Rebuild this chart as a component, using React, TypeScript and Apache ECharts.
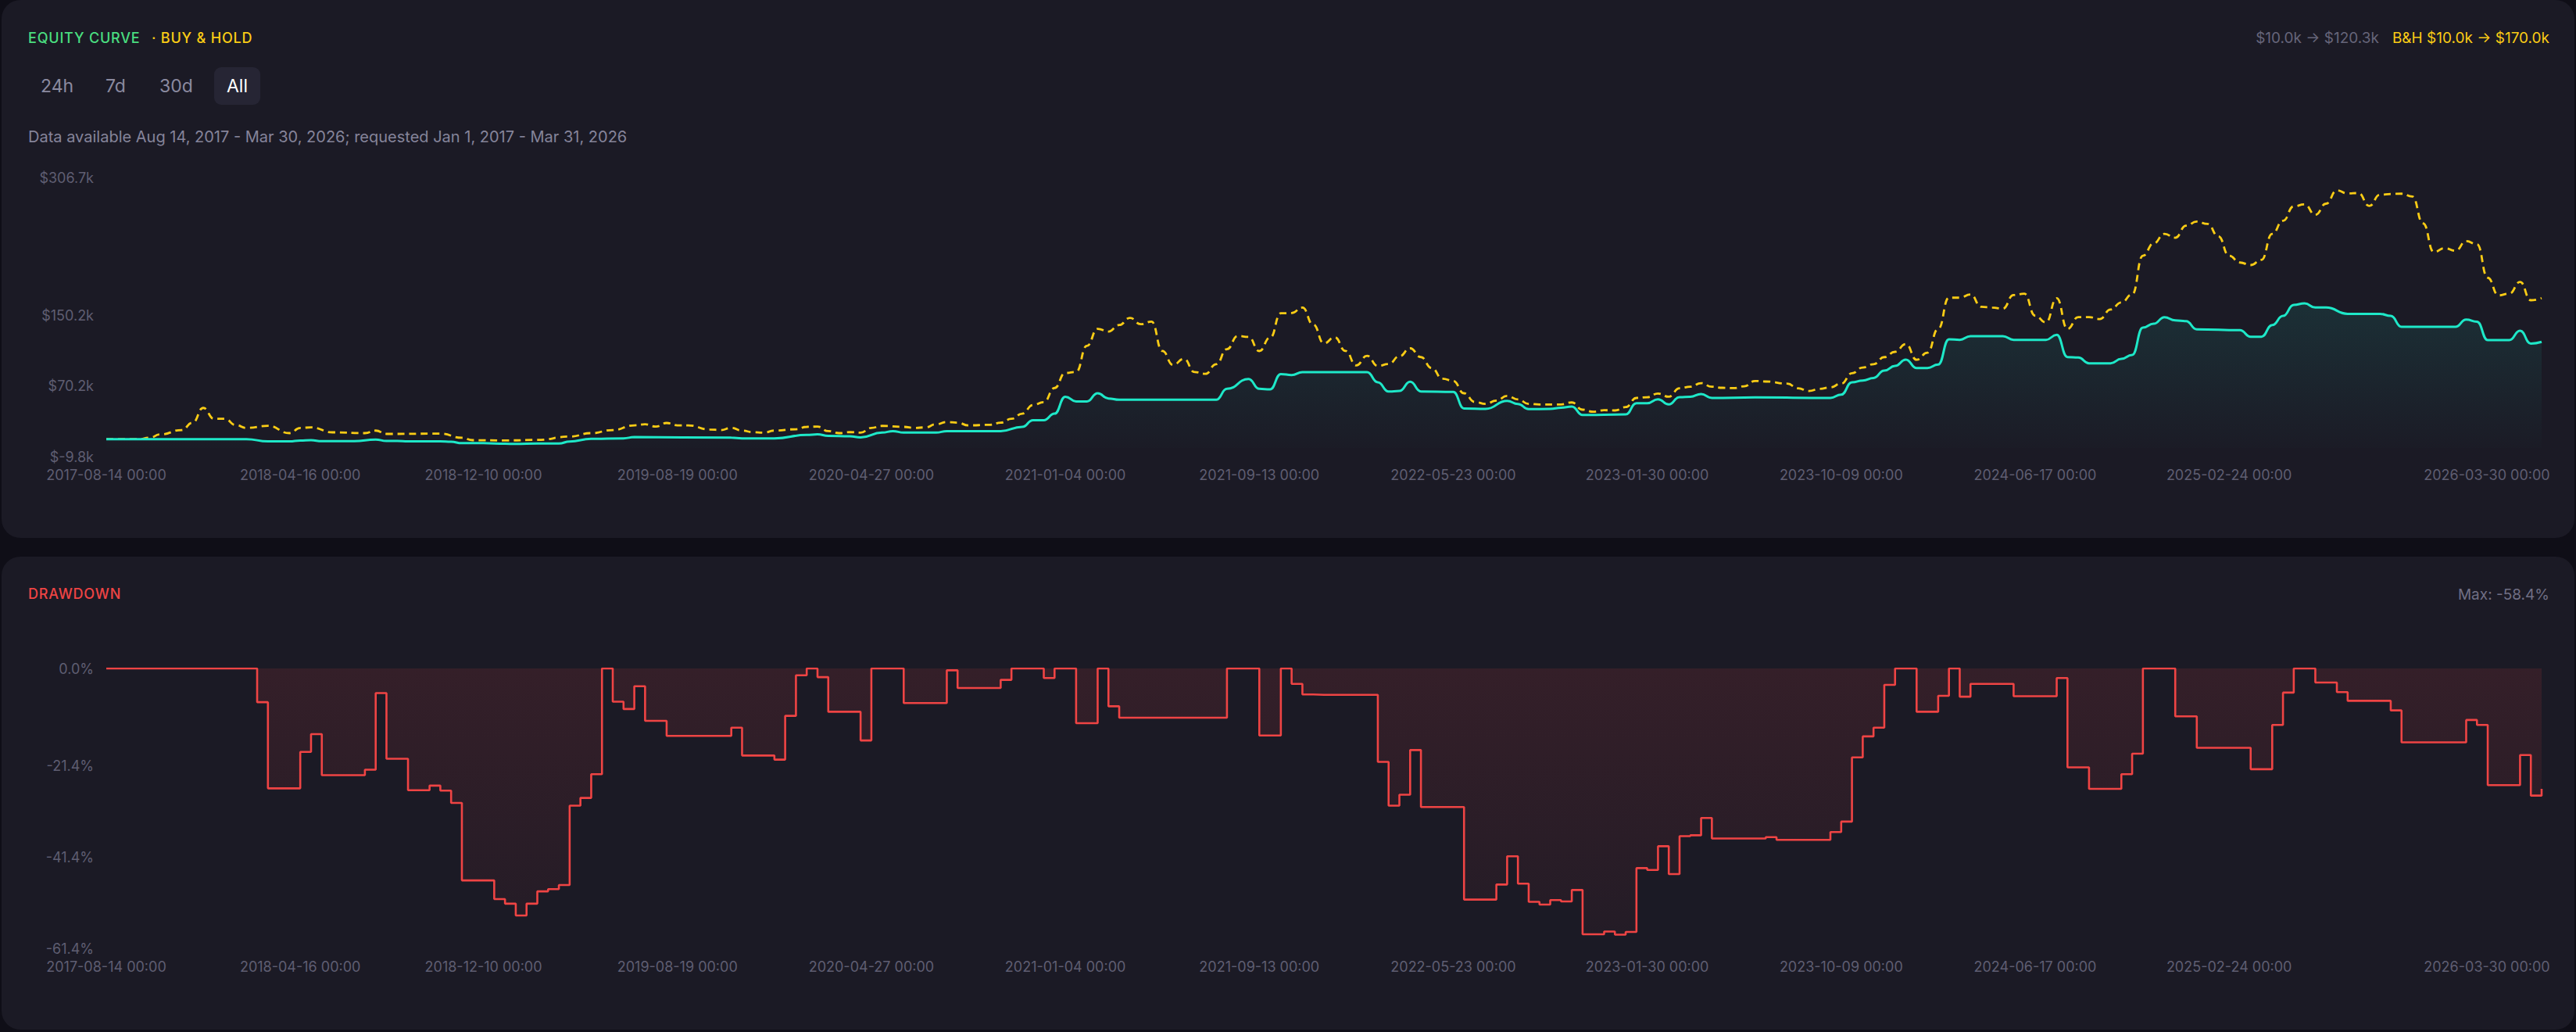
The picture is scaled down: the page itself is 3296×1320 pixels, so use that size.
import React, { useEffect, useRef } from "react";
import * as echarts from "echarts";

// ---------- axis / label data ----------
const LABEL_INDEX = [0, 18, 35, 53, 71, 89, 107, 125, 143, 161, 179, 197, 226];
const LABEL_DATES = [
  "2017-08-14", "2018-04-16", "2018-12-10", "2019-08-19", "2020-04-27", "2021-01-04",
  "2021-09-13", "2022-05-23", "2023-01-30", "2023-10-09", "2024-06-17", "2025-02-24", "2026-03-30",
];
const EQUITY_TICKS = [-9.8, 70.2, 150.2, 306.7];
const EQUITY_MIN = -9.8;
const EQUITY_MAX = 306.7;
const DD_TICKS = [0, -21.4, -41.4, -61.4];
const DD_MIN = -61.4;

// ---------- series (values in $k, [period index, value]) ----------
const STRATEGY: [number, number][] = [
  [0, 10.0], [13, 10.0], [15, 7.4], [17, 7.4], [18, 8.4], [19, 8.8], [20, 7.6], [23, 7.6], [25, 9.5],
  [26, 7.9], [27, 7.9], [28, 7.4], [31, 7.4], [32, 7.0], [33, 5.4], [35, 5.4], [37, 4.8], [38, 4.5],
  [40, 5.0], [42, 5.0], [43, 7.3], [45, 10.3], [48, 10.9], [49, 12.3], [58, 11.7], [59, 10.9], [62, 10.9],
  [65, 14.7], [66, 15.4], [67, 13.8], [69, 13.2], [70, 12.0], [72, 17.4], [73, 19.1], [74, 17.4], [77, 17.4],
  [78, 19.1], [83, 19.1], [85, 23.9], [86, 31.5], [87, 31.5], [88, 38.9], [89, 58.1], [90, 52.8], [91, 52.8],
  [92, 62.0], [93, 56.1], [94, 54.6], [103, 54.6], [104, 67.0], [106, 78.2], [107, 67.0], [108, 66.4],
  [109, 83.8], [110, 82.7], [111, 85.9], [117, 85.9], [118, 74.4], [119, 64.0], [120, 64.6], [121, 75.0],
  [122, 64.0], [125, 63.5], [126, 44.8], [128, 44.3], [130, 53.4], [131, 49.9], [132, 44.0], [134, 44.3],
  [135, 45.7], [136, 46.9], [137, 37.4], [141, 38.0], [142, 50.8], [143, 50.8], [144, 55.2], [145, 49.3],
  [146, 57.5], [147, 58.1], [148, 61.1], [149, 56.7], [153, 57.3], [160, 56.7], [161, 60.5], [162, 74.4],
  [163, 76.5], [164, 79.4], [165, 87.7], [166, 93.0], [167, 100.1], [168, 90.6], [169, 90.6], [170, 94.5],
  [171, 123.2], [172, 122.6], [173, 126.7], [176, 126.7], [177, 122.6], [180, 122.6], [181, 128.2],
  [182, 103.1], [183, 102.5], [184, 96.0], [186, 96.0], [187, 101.0], [188, 105.4], [189, 136.4],
  [190, 140.9], [191, 148.3], [192, 144.7], [193, 143.8], [194, 134.4], [198, 133.5], [199, 126.1],
  [200, 126.1], [201, 139.4], [202, 149.7], [203, 162.2], [204, 163.9], [205, 159.2], [206, 159.2],
  [208, 152.1], [211, 152.1], [212, 149.7], [213, 137.3], [218, 137.3], [219, 145.6], [220, 143.2],
  [221, 122.3], [223, 122.3], [224, 132.9], [225, 118.4], [226, 120.3],
];

const BUY_HOLD: [number, number][] = [
  [0, 10.0], [3, 10.0], [4, 11.5], [5, 15.3], [7, 20.3], [8, 28.6], [9, 45.4], [10, 33.0], [11, 33.0],
  [12, 26.0], [13, 22.7], [15, 25.1], [17, 16.8], [18, 22.7], [19, 23.3], [21, 17.7], [24, 16.8], [25, 19.7],
  [26, 15.9], [31, 16.2], [33, 11.5], [34, 8.8], [37, 8.5], [40, 9.1], [43, 12.9], [45, 16.8], [47, 20.3],
  [49, 25.6], [50, 26.8], [51, 24.2], [52, 28.3], [53, 25.6], [54, 25.6], [56, 20.9], [57, 20.3], [58, 22.7],
  [59, 19.7], [60, 17.9], [61, 17.3], [62, 19.7], [64, 21.2], [65, 23.9], [66, 24.2], [67, 19.1], [68, 16.8],
  [69, 17.9], [70, 17.3], [71, 22.7], [72, 25.0], [74, 23.9], [75, 22.7], [76, 23.3], [77, 26.8], [78, 29.5],
  [79, 28.6], [80, 25.6], [82, 26.2], [83, 28.6], [84, 33.0], [85, 38.9], [86, 48.7], [87, 52.0], [88, 68.0],
  [89, 85.0], [90, 86.2], [91, 115.8], [92, 135.0], [93, 132.0], [94, 139.4], [95, 147.4], [96, 140.3],
  [97, 143.2], [98, 110.0], [99, 94.2], [100, 101.0], [101, 86.0], [102, 84.0], [103, 95.0], [104, 112.0],
  [105, 127.0], [106, 126.0], [107, 109.9], [108, 125.0], [109, 152.7], [110, 153.0], [111, 159.2],
  [112, 140.0], [113, 118.7], [114, 125.5], [115, 110.0], [116, 93.6], [117, 104.5], [118, 93.0],
  [119, 95.1], [120, 103.9], [121, 113.0], [122, 103.0], [123, 90.6], [124, 78.5], [125, 76.0], [126, 62.0],
  [127, 52.2], [128, 49.9], [129, 53.7], [130, 59.0], [131, 55.0], [132, 50.0], [133, 49.3], [135, 49.3],
  [136, 51.6], [137, 43.4], [138, 41.0], [139, 42.8], [140, 42.5], [141, 46.3], [142, 56.7], [143, 57.5],
  [144, 61.7], [145, 58.1], [146, 67.6], [147, 69.4], [148, 73.5], [149, 69.4], [150, 68.2], [151, 67.8],
  [152, 69.9], [153, 75.9], [154, 75.3], [156, 72.9], [157, 67.6], [158, 64.6], [159, 67.0], [160, 68.8],
  [161, 72.9], [162, 84.7], [163, 91.2], [164, 95.0], [165, 103.0], [166, 109.0], [167, 117.8], [168, 100.0],
  [169, 108.0], [170, 135.0], [171, 170.4], [172, 170.4], [173, 174.0], [174, 160.0], [175, 159.2],
  [176, 158.0], [177, 173.4], [178, 174.9], [179, 150.0], [180, 142.4], [181, 169.8], [182, 135.0],
  [183, 148.3], [184, 148.3], [185, 146.2], [186, 157.0], [187, 165.0], [188, 174.0], [189, 218.0],
  [190, 232.0], [191, 242.8], [192, 238.4], [193, 252.0], [194, 256.7], [195, 254.0], [196, 240.0],
  [197, 218.0], [198, 210.3], [199, 207.4], [200, 213.3], [201, 242.8], [202, 257.6], [203, 274.0],
  [204, 276.2], [205, 264.4], [206, 277.0], [207, 292.0], [208, 288.6], [209, 289.0], [210, 274.4],
  [211, 287.1], [212, 288.0], [213, 288.3], [214, 285.1], [215, 254.6], [216, 222.1], [217, 226.6],
  [218, 223.6], [219, 234.5], [220, 231.0], [221, 193.0], [222, 173.0], [223, 175.0], [224, 188.2],
  [225, 167.5], [226, 170.0],
];

// drawdown in %, one value per period (227)
const DRAWDOWN = [
  0, 0, 0, 0, 0, 0, 0, 0, 0, 0,
  0, 0, 0, 0, -7.4, -26.3, -26.3, -26.3, -18.3, -14.4,
  -23.4, -23.4, -23.4, -23.4, -22.2, -5.4, -19.8, -19.8, -26.7, -26.7,
  -25.7, -26.8, -29.5, -46.5, -46.5, -46.5, -50.6, -51.6, -54.2, -51.6,
  -48.9, -48.4, -47.5, -30.1, -28.4, -23.2, 0, -7.3, -8.9, -3.9,
  -11.5, -11.5, -14.8, -14.8, -14.8, -14.8, -14.8, -14.8, -13.0, -19.1,
  -19.1, -19.1, -20.0, -10.4, -1.5, 0, -1.9, -9.5, -9.5, -9.5,
  -15.8, 0, 0, 0, -7.6, -7.6, -7.6, -7.6, -0.4, -4.3,
  -4.3, -4.3, -4.3, -2.5, 0, 0, 0, -2.1, 0, 0,
  -12.0, -12.0, 0, -8.3, -10.8, -10.8, -10.8, -10.8, -10.8, -10.8,
  -10.8, -10.8, -10.8, -10.8, 0, 0, 0, -14.7, -14.7, 0,
  -3.4, -5.7, -5.8, -5.8, -5.8, -5.8, -5.8, -5.8, -20.5, -30.1,
  -27.7, -17.9, -30.4, -30.4, -30.4, -30.4, -50.7, -50.7, -50.7, -47.4,
  -41.2, -47.2, -51.2, -51.8, -50.8, -51.1, -48.6, -58.3, -58.3, -57.7,
  -58.4, -57.8, -43.8, -44.2, -39.0, -45.1, -36.8, -36.6, -32.8, -37.3,
  -37.3, -37.3, -37.3, -37.3, -37.0, -37.6, -37.6, -37.6, -37.6, -37.6,
  -35.9, -33.6, -19.5, -14.9, -13.0, -3.6, 0, 0, -9.5, -9.5,
  -6.0, 0, -6.2, -3.4, -3.4, -3.4, -3.4, -6.1, -6.1, -6.1,
  -6.1, -2.1, -21.7, -21.7, -26.4, -26.4, -26.4, -23.2, -18.7, 0,
  0, 0, -10.5, -10.5, -17.4, -17.4, -17.4, -17.4, -17.4, -22.1,
  -22.1, -12.4, -5.3, 0, 0, -3.1, -3.1, -5.2, -7.1, -7.1,
  -7.1, -7.1, -9.2, -16.2, -16.2, -16.2, -16.2, -16.2, -16.2, -11.3,
  -12.4, -25.6, -25.6, -25.6, -19.0, -27.9, -26.4,
];

// ---------- helpers ----------
const pad = (n: number) => (n < 10 ? "0" + n : "" + n);
function fmtDate(t: number) {
  const d = new Date(t);
  return `${d.getUTCFullYear()}-${pad(d.getUTCMonth() + 1)}-${pad(d.getUTCDate())} 00:00`;
}
function buildCategories(): string[] {
  const out: string[] = [];
  for (let s = 0; s < LABEL_INDEX.length - 1; s++) {
    const a = LABEL_INDEX[s];
    const b = LABEL_INDEX[s + 1];
    const t0 = Date.parse(LABEL_DATES[s] + "T00:00:00Z");
    const t1 = Date.parse(LABEL_DATES[s + 1] + "T00:00:00Z");
    const days = Math.round((t1 - t0) / 86400000);
    for (let i = a; i < b; i++) {
      out.push(fmtDate(t0 + Math.round(((i - a) * days) / (b - a)) * 86400000));
    }
  }
  out.push(LABEL_DATES[LABEL_DATES.length - 1] + " 00:00");
  return out;
}
const CATEGORIES = buildCategories();
const LABEL_SET = new Set(LABEL_INDEX);
const LAST_INDEX = CATEGORIES.length - 1;

const FONT = "Inter, 'Noto Sans', sans-serif";
const AXIS_TEXT = "#5f5e72";
const TEAL = "#1ee8c8";
const GOLD = "#facc15";
const RED = "#ef4444";

function xAxisBase() {
  return {
    type: "category" as const,
    data: CATEGORIES,
    boundaryGap: false,
    axisLine: { show: false },
    axisTick: { show: false },
    splitLine: { show: false },
    axisLabel: {
      color: AXIS_TEXT,
      fontFamily: FONT,
      fontSize: 18,
      margin: 14,
      interval: (idx: number) => LABEL_SET.has(idx),
      formatter: (value: string, idx: number) => (idx === LAST_INDEX ? "{last|" + value + "}" : value),
      rich: {
        last: {
          color: AXIS_TEXT,
          fontFamily: FONT,
          fontSize: 18,
          padding: [0, 140, 0, 0],
        },
      },
    },
  };
}

function equityOption(): any {
  return {
    animation: false,
    grid: { left: 100, right: 10, top: 27, height: 357, outerBoundsMode: "none", containLabel: false },
    xAxis: xAxisBase(),
    yAxis: {
      type: "value",
      min: EQUITY_MIN,
      max: EQUITY_MAX,
      axisLine: { show: false },
      axisTick: { show: false },
      splitLine: { show: false },
      axisLabel: {
        customValues: EQUITY_TICKS,
        color: AXIS_TEXT,
        fontFamily: FONT,
        fontSize: 18,
        margin: 16,
        formatter: (v: number) => "$" + v.toFixed(1) + "k",
      },
    },
    series: [
      {
        type: "line",
        name: "Buy & Hold",
        data: BUY_HOLD,
        smooth: 0.5,
        smoothMonotone: "x",
        symbol: "none",
        lineStyle: { color: GOLD, width: 2.8, type: [9, 6] },
        z: 2,
      },
      {
        type: "line",
        name: "Strategy",
        data: STRATEGY,
        smooth: 0.5,
        smoothMonotone: "x",
        symbol: "none",
        lineStyle: { color: TEAL, width: 3 },
        areaStyle: {
          color: new echarts.graphic.LinearGradient(0, 0, 0, 1, [
            { offset: 0, color: "rgba(30,232,200,0.15)" },
            { offset: 1, color: "rgba(30,232,200,0.01)" },
          ]),
        },
        z: 3,
      },
    ],
  };
}

function drawdownOption(): any {
  return {
    animation: false,
    grid: { left: 100, right: 10, top: 55, height: 358, outerBoundsMode: "none", containLabel: false },
    xAxis: xAxisBase(),
    yAxis: {
      type: "value",
      min: DD_MIN,
      max: 0,
      axisLine: { show: false },
      axisTick: { show: false },
      splitLine: { show: false },
      axisLabel: {
        customValues: DD_TICKS,
        color: AXIS_TEXT,
        fontFamily: FONT,
        fontSize: 18,
        margin: 16,
        formatter: (v: number) => v.toFixed(1) + "%",
      },
    },
    series: [
      {
        type: "line",
        name: "Drawdown",
        data: DRAWDOWN,
        step: "end",
        symbol: "none",
        lineStyle: { color: RED, width: 2.6 },
        areaStyle: {
          color: new echarts.graphic.LinearGradient(0, 0, 0, 1, [
            { offset: 0, color: "rgba(239,68,68,0.17)" },
            { offset: 1, color: "rgba(239,68,68,0.06)" },
          ]),
        },
      },
    ],
  };
}

function Chart({ option, style }: { option: any; style: React.CSSProperties }) {
  const ref = useRef<HTMLDivElement>(null);
  useEffect(() => {
    if (!ref.current) return;
    const chart = echarts.init(ref.current, null, { renderer: "svg" });
    chart.setOption(option);
    return () => chart.dispose();
  }, []);
  return <div ref={ref} style={{ position: "absolute", ...style }} />;
}

function Txt({
  left, right, cy, size, color, children, spacing, weight,
}: {
  left?: number; right?: number; cy: number; size: number; color: string; children: React.ReactNode;
  spacing?: number; weight?: number;
}) {
  const h = Math.round(size * 1.4);
  return (
    <div
      style={{
        position: "absolute",
        left,
        right,
        top: cy - h / 2,
        height: h,
        lineHeight: h + "px",
        fontSize: size,
        color,
        letterSpacing: spacing ?? 0,
        fontWeight: weight ?? 400,
        whiteSpace: "nowrap",
        fontFamily: FONT,
      }}
    >
      {children}
    </div>
  );
}

const BUTTONS = ["24h", "7d", "30d", "All"];
const BUTTON_LEFT = [36, 119, 188, 274];

export default function App() {
  return (
    <div
      style={{
        position: "fixed",
        left: 0,
        top: 0,
        width: 3296,
        height: 1320,
        background: "#0f0e17",
        overflow: "hidden",
        fontFamily: FONT,
      }}
    >
      {/* equity card */}
      <div style={{ position: "absolute", left: 2, top: 0, width: 3292, height: 688, borderRadius: 24, background: "#1b1a25" }} />
      {/* drawdown card */}
      <div style={{ position: "absolute", left: 2, top: 712, width: 3292, height: 605, borderRadius: 24, background: "#1b1a25" }} />

      <Txt left={36} cy={48} size={18} color="#4ade80" spacing={0.8} weight={500}>EQUITY CURVE</Txt>
      <Txt left={194} cy={48} size={18} color={GOLD} spacing={0.8} weight={500}>· BUY &amp; HOLD</Txt>

      <div style={{ position: "absolute", right: 34, top: 48 - 13, height: 26, display: "flex", gap: 17, alignItems: "center", fontSize: 19, fontFamily: FONT, whiteSpace: "nowrap" }}>
        <span style={{ color: "#66657a" }}>$10.0k → $120.3k</span>
        <span style={{ color: GOLD }}>B&amp;H $10.0k → $170.0k</span>
      </div>

      {BUTTONS.map((b, i) => (
        <div
          key={b}
          style={{
            position: "absolute",
            left: BUTTON_LEFT[i],
            top: 86,
            height: 48,
            lineHeight: "48px",
            padding: "0 16px",
            borderRadius: 9,
            fontSize: 23,
            fontFamily: FONT,
            color: b === "All" ? "#ffffff" : "#8b8aa0",
            background: b === "All" ? "#262534" : "transparent",
            whiteSpace: "nowrap",
          }}
        >
          {b}
        </div>
      ))}

      <Txt left={36} cy={175} size={20} color="#85849a">
        Data available Aug 14, 2017 - Mar 30, 2026; requested Jan 1, 2017 - Mar 31, 2026
      </Txt>

      <Chart option={equityOption()} style={{ left: 36, top: 200, width: 3226, height: 440 }} />

      <Txt left={36} cy={759} size={18} color={RED} spacing={0.8} weight={500}>DRAWDOWN</Txt>
      <Txt right={34} cy={760} size={19} color="#706f84">Max: -58.4%</Txt>

      <Chart option={drawdownOption()} style={{ left: 36, top: 800, width: 3226, height: 470 }} />
    </div>
  );
}
